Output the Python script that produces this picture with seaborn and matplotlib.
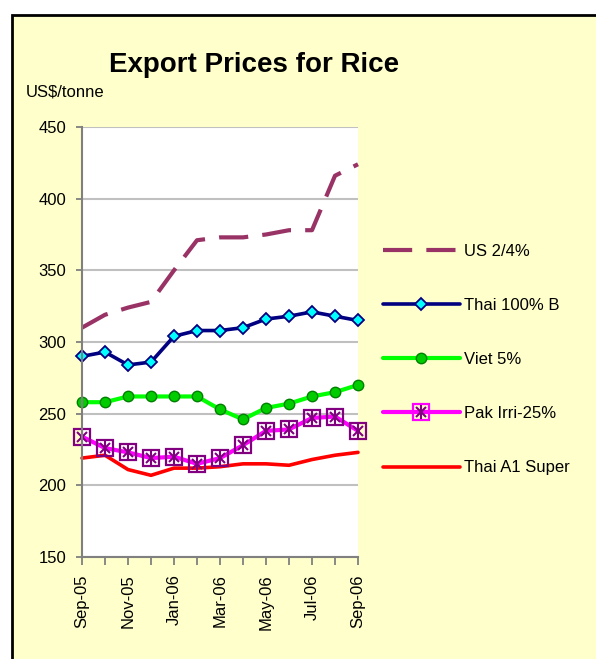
import matplotlib
matplotlib.use("Agg")
import matplotlib.pyplot as plt
from matplotlib.patches import Rectangle
from matplotlib.lines import Line2D
from matplotlib.legend_handler import HandlerTuple
import seaborn as sns
import numpy as np
import pandas as pd

# ---- data ----
months = ["Sep-05", "Oct-05", "Nov-05", "Dec-05", "Jan-06", "Feb-06", "Mar-06",
          "Apr-06", "May-06", "Jun-06", "Jul-06", "Aug-06", "Sep-06"]
us_24 = [310, 319, 324, 328, 350, 371, 373, 373, 375, 378, 378, 416, 424]
thai_100b = [290, 293, 284, 286, 304, 308, 308, 310, 316, 318, 321, 318, 315]
viet_5 = [258, 258, 262, 262, 262, 262, 253, 246, 254, 257, 262, 265, 270]
pak_irri = [234, 226, 223, 219, 220, 215, 219, 228, 238, 239, 247, 248, 238]
thai_a1 = [219, 221, 211, 207, 212, 212, 213, 215, 215, 214, 218, 221, 223]
series_labels = ["US 2/4%", "Thai 100% B", "Viet 5%", "Pak Irri-25%", "Thai A1 Super"]
y_ticks = [150, 200, 250, 300, 350, 400, 450]

sns.set_style("white")
plt.rcParams["font.family"] = ["Liberation Sans", "DejaVu Sans"]
plt.rcParams["text.color"] = "black"
plt.rcParams["xtick.labelcolor"] = "black"
plt.rcParams["ytick.labelcolor"] = "black"

W, H = 596, 659
fig = plt.figure(figsize=(W / 100, H / 100), dpi=100, facecolor="white")
fig.patches.append(Rectangle((12 / W, -0.05), 1.2, 1.05 - 15 / H,
                             transform=fig.transFigure, facecolor="#FFFFCC",
                             edgecolor="black", lw=2, zorder=-5))

ax = fig.add_axes([82 / W, 1 - 557 / H, (358 - 82) / W, (557 - 127) / H])
ax.set_facecolor("white")

df = pd.DataFrame({"Month": months, "US": us_24, "T100": thai_100b,
                   "Viet": viet_5, "Pak": pak_irri, "TA1": thai_a1})

US_C = "#993366"
DASH = (0, (7, 3.4))
sns.lineplot(data=df, x="Month", y="US", ax=ax, color=US_C, lw=3,
             linestyle=DASH, clip_on=False)
sns.lineplot(data=df, x="Month", y="T100", ax=ax, color="#000080", lw=2.6,
             marker="D", markersize=6.5, markerfacecolor="#00FFFF",
             markeredgecolor="#000080", markeredgewidth=1.3, clip_on=False)
sns.lineplot(data=df, x="Month", y="Viet", ax=ax, color="#00FF00", lw=3,
             marker="o", markersize=7.5, markerfacecolor="#00CC00",
             markeredgecolor="#008000", markeredgewidth=1.0, clip_on=False)
sns.lineplot(data=df, x="Month", y="TA1", ax=ax, color="#FF0000", lw=2.6,
             clip_on=False)
sns.lineplot(data=df, x="Month", y="Pak", ax=ax, color="#FF00FF", lw=3,
             marker="s", markersize=11.5, markerfacecolor="none",
             markeredgecolor="#800080", markeredgewidth=1.6, clip_on=False)
ax.plot(df["Month"], df["Pak"], ls="none", marker="x", ms=7.5, mew=1.5,
        color="#800080", clip_on=False)
ax.plot(df["Month"], df["Pak"], ls="none", marker="|", ms=9.5, mew=1.5,
        color="#800080", clip_on=False)

ax.set_xlim(0, len(months) - 1)
ax.set_ylim(150, 450)
ax.set_yticks(y_ticks)
ax.set_xticks(range(len(months)))
ax.set_xticklabels([m if i % 2 == 0 else "" for i, m in enumerate(months)],
                   rotation=90, fontsize=12)
ax.set_xlabel("")
ax.set_ylabel("")
ax.yaxis.grid(True, color="#C0C0C0", lw=1.5)
ax.set_axisbelow(True)
for s in ["top", "right"]:
    ax.spines[s].set_visible(False)
for s in ["left", "bottom"]:
    ax.spines[s].set_color("#808080")
    ax.spines[s].set_linewidth(1.5)
ax.tick_params(axis="y", direction="out", length=4.5, width=1.3, color="#808080",
               labelsize=12, pad=7, left=True, labelcolor="black")
ax.tick_params(axis="x", direction="out", length=5.5, width=1.3, color="#808080",
               labelsize=12, pad=7, bottom=True, labelcolor="black")

fig.text(254 / W, 1 - 65 / H, "Export Prices for Rice", ha="center", va="center",
         fontsize=20, fontweight="bold", color="black")
fig.text(26 / W, 1 - 92 / H, "US$/tonne", ha="left", va="center", fontsize=12,
         color="black")

h_us = Line2D([], [], color=US_C, lw=3, linestyle=DASH)
h_t100 = Line2D([], [], color="#000080", lw=2.6, marker="D", markersize=6.5,
                markerfacecolor="#00FFFF", markeredgecolor="#000080", markeredgewidth=1.3)
h_viet = Line2D([], [], color="#00FF00", lw=3, marker="o", markersize=7.5,
                markerfacecolor="#00CC00", markeredgecolor="#008000")
h_pak = (Line2D([], [], color="#FF00FF", lw=3, marker="s", markersize=11.5,
                markerfacecolor="none", markeredgecolor="#FF00FF", markeredgewidth=1.6),
         Line2D([], [], ls="none", marker="x", ms=7.5, mew=1.5, color="#800080"),
         Line2D([], [], ls="none", marker="|", ms=9.5, mew=1.5, color="#800080"))
h_ta1 = Line2D([], [], color="#FF0000", lw=2.6)
fig.legend([h_us, h_t100, h_viet, h_pak, h_ta1], series_labels,
           handler_map={tuple: HandlerTuple(ndivide=1, pad=0)},
           loc="center left", bbox_to_anchor=(383 / W, 1 - 359.5 / H),
           frameon=False, handlelength=4.6, handletextpad=0.25,
           labelspacing=2.35, borderpad=0, borderaxespad=0, fontsize=12,
           numpoints=1, labelcolor="black")

fig.savefig("out.png", dpi=100, facecolor="white")
